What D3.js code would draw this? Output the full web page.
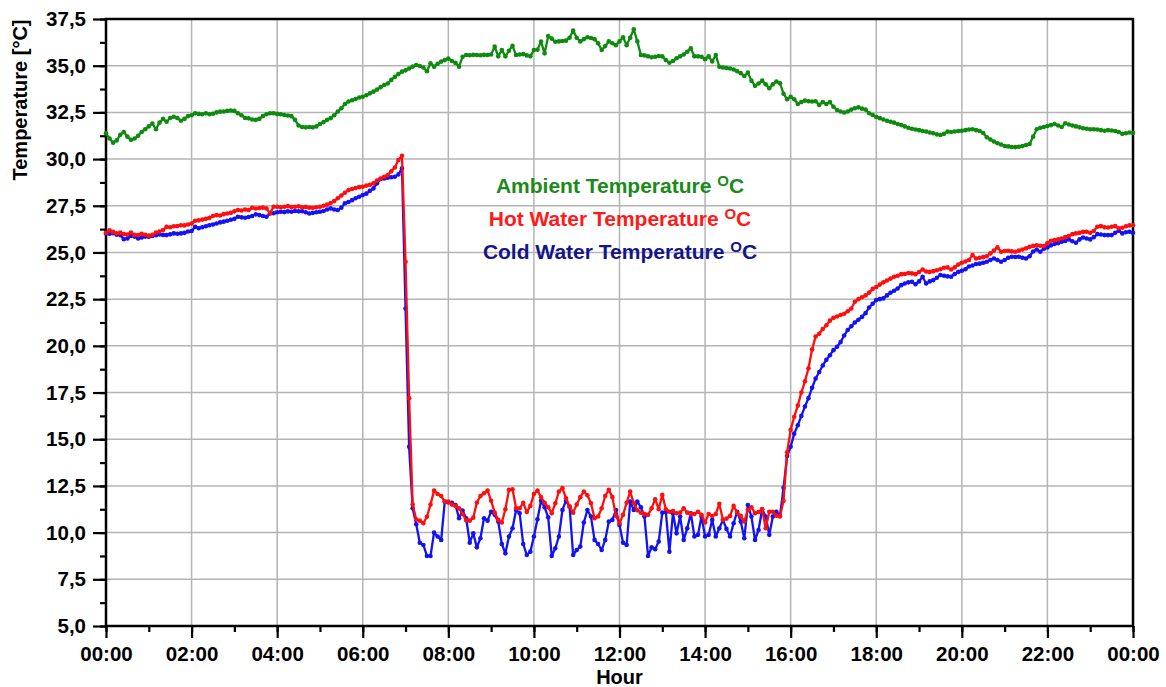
<!DOCTYPE html>
<html><head><meta charset="utf-8">
<script src="https://cdn.jsdelivr.net/npm/d3@7"></script>
<style>body{margin:0;background:#fff}svg{display:block}</style>
</head><body>
<svg id="chart" width="1166" height="687"></svg>
<script>
// sampling interval of the logged data (minutes)
const stepMinutes = 5;

const ambient = [
31.38,31.1,30.88,31.0,31.3,31.45,31.2,31.03,31.1,31.25,31.45,31.6,
31.75,31.9,31.6,31.95,32.15,32.0,32.2,32.27,32.2,32.05,32.15,32.3,
32.35,32.45,32.42,32.4,32.45,32.4,32.43,32.5,32.54,32.55,32.58,32.6,
32.58,32.45,32.35,32.2,32.18,32.12,32.1,32.15,32.3,32.4,32.45,32.45,
32.42,32.4,32.36,32.33,32.3,32.1,31.8,31.72,31.7,31.72,31.7,31.75,
31.88,31.98,32.1,32.19,32.35,32.55,32.72,32.95,33.08,33.15,33.22,33.3,
33.34,33.42,33.52,33.61,33.72,33.85,33.97,34.05,34.24,34.4,34.55,34.68,
34.75,34.85,34.95,35.04,34.98,34.9,34.7,35.13,34.95,35.1,35.22,35.3,
35.38,35.25,35.15,34.95,35.48,35.57,35.56,35.58,35.57,35.56,35.58,35.57,
35.6,36.02,35.5,35.84,35.5,35.8,36.06,35.57,35.6,35.62,35.55,35.5,
35.84,35.86,36.29,35.66,36.59,36.45,36.28,36.3,36.32,36.34,36.5,36.88,
36.5,36.3,36.42,36.52,36.48,36.42,36.2,35.84,36.05,36.3,36.2,36.1,
36.3,36.52,36.1,36.5,36.95,36.3,35.57,35.55,35.5,35.45,35.48,35.52,
35.5,35.3,35.16,35.25,35.4,35.5,35.6,35.75,35.93,35.5,35.5,35.48,
35.35,35.5,35.23,35.57,34.94,34.9,34.88,34.85,34.8,34.7,34.6,34.45,
34.63,34.2,33.92,34.05,34.2,34.0,33.79,34.0,34.15,34.06,33.5,33.2,
33.34,33.2,32.95,33.05,33.13,33.1,33.08,33.1,32.9,33.05,32.95,33.05,
32.8,32.63,32.55,32.49,32.55,32.65,32.72,32.77,32.7,32.65,32.45,32.36,
32.25,32.19,32.12,32.05,32.0,31.95,31.88,31.82,31.75,31.68,31.62,31.58,
31.55,31.5,31.47,31.42,31.38,31.32,31.29,31.35,31.47,31.45,31.48,31.5,
31.51,31.55,31.58,31.6,31.55,31.5,31.4,31.17,31.05,30.94,30.85,30.78,
30.7,30.68,30.65,30.64,30.66,30.7,30.75,30.81,31.2,31.6,31.68,31.72,
31.77,31.82,31.88,31.8,31.72,31.92,31.85,31.8,31.75,31.7,31.65,31.62,
31.6,31.6,31.58,31.55,31.52,31.55,31.53,31.5,31.45,31.35,31.38,31.42,
31.4];

const hotWater = [
26.05,26.18,26.1,26.02,26.06,25.98,25.96,26.07,25.94,25.93,26.0,25.95,
25.9,25.95,26.07,26.12,26.2,26.37,26.35,26.4,26.42,26.46,26.45,26.5,
26.55,26.7,26.72,26.76,26.8,26.85,26.95,27.0,26.98,27.05,27.09,27.12,
27.2,27.27,27.25,27.3,27.27,27.39,27.35,27.38,27.4,27.36,27.1,27.45,
27.45,27.42,27.45,27.48,27.43,27.45,27.47,27.42,27.44,27.4,27.39,27.42,
27.45,27.5,27.56,27.65,27.75,27.9,28.05,28.2,28.34,28.4,28.45,28.5,
28.52,28.58,28.62,28.7,28.85,28.96,29.05,29.14,29.35,29.55,29.95,30.18,
24.5,17.2,11.5,10.7,10.64,10.5,10.85,11.5,12.25,12.07,11.96,11.66,
11.66,11.5,11.43,11.3,11.0,10.66,10.64,10.8,11.61,11.96,12.11,12.25,
11.71,11.07,10.68,10.54,11.25,12.29,12.32,11.3,11.3,11.6,11.1,11.43,
12.07,12.25,11.9,11.6,11.36,11.04,11.57,12.2,12.38,11.84,11.39,11.07,
11.5,11.9,12.2,12.0,11.57,10.77,10.86,11.3,11.96,12.29,11.9,10.9,
10.5,10.95,11.6,12.2,11.57,11.2,11.07,11.0,10.95,11.3,11.79,11.25,
12.02,11.25,11.12,11.15,11.04,11.07,11.3,11.07,11.0,11.0,11.12,10.95,
10.54,11.0,10.89,11.0,11.54,10.68,10.75,10.89,11.43,11.07,10.9,10.59,
11.21,11.36,11.04,11.1,11.25,10.23,11.12,11.12,10.9,10.86,11.7,14.3,
15.5,16.2,16.8,17.5,18.1,18.8,19.8,20.5,20.65,20.9,21.1,21.35,
21.5,21.57,21.65,21.72,21.85,22.0,22.36,22.5,22.6,22.7,22.85,23.05,
23.15,23.28,23.4,23.5,23.6,23.7,23.75,23.84,23.85,23.9,23.88,23.84,
23.95,24.09,23.98,23.96,24.0,24.05,24.1,24.18,24.2,24.09,24.2,24.35,
24.45,24.52,24.6,24.86,24.68,24.72,24.75,24.8,24.95,25.1,25.27,25.04,
25.08,25.09,25.06,25.04,25.1,25.16,25.22,25.3,25.35,25.39,25.36,25.34,
25.5,25.63,25.66,25.7,25.75,25.82,25.88,25.98,26.02,26.05,26.1,26.11,
26.05,26.15,26.38,26.41,26.35,26.34,26.38,26.41,26.3,26.32,26.4,26.45,
26.46];

const coldWater = [
26.02,26.0,26.03,25.95,25.93,25.71,25.75,25.89,25.85,25.75,25.8,25.85,
25.84,25.88,25.92,25.96,25.94,25.93,25.97,26.02,26.0,26.02,26.05,26.12,
26.15,26.37,26.3,26.35,26.4,26.46,26.5,26.55,26.61,26.65,26.7,26.75,
26.8,26.91,26.88,26.86,26.9,26.95,27.04,27.0,26.95,26.91,27.09,27.1,
27.15,27.18,27.16,27.2,27.18,27.22,27.2,27.21,27.15,27.09,27.12,27.15,
27.18,27.22,27.3,27.36,27.3,27.27,27.4,27.63,27.7,27.8,27.9,27.98,
28.07,28.15,28.3,28.43,28.7,28.93,28.96,29.0,29.03,29.05,29.18,29.5,
22.0,14.6,11.3,10.45,9.46,9.34,8.75,8.75,10.0,9.79,9.61,11.66,
11.62,11.6,11.48,10.77,11.18,10.77,9.46,9.96,9.21,9.7,10.77,10.64,
11.12,10.95,10.59,9.39,8.89,9.79,10.23,11.21,11.04,9.39,8.8,8.98,
9.79,10.71,11.71,11.36,10.82,8.75,9.16,9.79,11.21,11.71,11.39,8.8,
9.07,9.25,10.54,11.21,10.86,9.61,9.39,9.07,9.61,10.59,10.68,11.21,
10.41,9.46,9.34,11.66,11.21,11.66,11.36,10.86,8.75,9.21,9.11,9.52,
11.07,11.1,8.98,11.04,9.96,10.86,9.61,10.23,11.04,9.79,9.88,10.86,
9.79,9.88,10.68,9.79,10.23,10.68,10.2,9.79,10.5,11.12,10.59,9.7,
11.48,10.86,9.61,10.14,11.25,10.86,9.88,10.86,11.12,10.9,12.4,14.1,
14.6,15.3,15.75,16.25,16.75,17.2,17.75,18.25,18.6,18.95,19.25,19.5,
19.77,19.95,20.2,20.55,20.85,21.05,21.25,21.4,21.55,21.75,22.05,22.25,
22.45,22.5,22.54,22.7,22.84,22.95,23.07,23.25,23.34,23.4,23.43,23.3,
23.45,23.7,23.34,23.45,23.52,23.65,23.79,23.75,23.72,23.7,23.85,23.96,
24.02,24.1,24.25,24.3,24.38,24.4,24.45,24.5,24.6,24.68,24.6,24.5,
24.6,24.72,24.77,24.76,24.77,24.72,24.68,24.8,25.05,25.16,25.04,25.2,
25.27,25.38,25.45,25.5,25.57,25.62,25.7,25.6,25.52,25.7,25.8,25.75,
25.7,25.82,25.98,25.96,25.93,25.93,25.93,26.05,26.16,26.02,26.08,26.11,
26.05];

const yTickValues = [5,7.5,10,12.5,15,17.5,20,22.5,25,27.5,30,32.5,35,37.5];
const xTickHours = [0,2,4,6,8,10,12,14,16,18,20,22,24];
const xTickLabels = ["00:00","02:00","04:00","06:00","08:00","10:00","12:00","14:00","16:00","18:00","20:00","22:00","00:00"];
const legendLabels = ["Ambient Temperature ","Hot Water Temperature ","Cold Water Temperature "];
const xTitle = "Hour";
const yTitle = "Temperature [\u00B0C]";

const W = 1166, H = 687;
const m = {left:106, right:33, top:19, bottom:61};
const svg = d3.select("#chart");
const fontFam = "Liberation Sans, Arial, sans-serif";

const x = d3.scaleLinear().domain([0,24]).range([m.left, W-m.right]);
const y = d3.scaleLinear().domain([5,37.5]).range([H-m.bottom, m.top]);

// grid
const grid = svg.append("g");
grid.selectAll("line.v").data(xTickHours.slice(1,-1)).join("line")
  .attr("x1",d=>x(d)).attr("x2",d=>x(d)).attr("y1",y(5)).attr("y2",y(37.5))
  .attr("stroke","#b4b4b4").attr("stroke-width",1.5);
grid.selectAll("line.h").data(yTickValues.slice(1,-1)).join("line")
  .attr("x1",x(0)).attr("x2",x(24)).attr("y1",d=>y(d)).attr("y2",d=>y(d))
  .attr("stroke","#b4b4b4").attr("stroke-width",1.5);

// axes: minor ticks
const minorY = d3.range(5, 37.5+0.01, 1.25);
const minorX = d3.range(0, 24.01, 1);
svg.append("g").attr("transform",`translate(${m.left},0)`)
  .call(d3.axisLeft(y).tickValues(minorY).tickSize(6).tickFormat(""))
  .call(g=>g.select(".domain").remove())
  .call(g=>g.selectAll("line").attr("stroke","#000").attr("stroke-width",2.2));
svg.append("g").attr("transform",`translate(0,${H-m.bottom})`)
  .call(d3.axisBottom(x).tickValues(minorX).tickSize(6).tickFormat(""))
  .call(g=>g.select(".domain").remove())
  .call(g=>g.selectAll("line").attr("stroke","#000").attr("stroke-width",2.2));

// major ticks + labels
svg.append("g").attr("transform",`translate(${m.left},0)`)
  .call(d3.axisLeft(y).tickValues(yTickValues).tickSize(13).tickPadding(7)
     .tickFormat(d=>d3.format(".1f")(d).replace(".",",")))
  .call(g=>g.select(".domain").remove())
  .call(g=>g.selectAll("line").attr("stroke","#000").attr("stroke-width",2.2))
  .call(g=>g.selectAll("text").attr("font-family",fontFam).attr("font-weight","bold")
     .attr("font-size",20.5).attr("fill","#000"));
svg.append("g").attr("transform",`translate(0,${H-m.bottom})`)
  .call(d3.axisBottom(x).tickValues(xTickHours).tickSize(12).tickPadding(8)
     .tickFormat((d,i)=>xTickLabels[i]))
  .call(g=>g.select(".domain").remove())
  .call(g=>g.selectAll("line").attr("stroke","#000").attr("stroke-width",2.2))
  .call(g=>g.selectAll("text").attr("font-family",fontFam).attr("font-weight","bold")
     .attr("font-size",20.5).attr("fill","#000"));

// frame
svg.append("rect").attr("x",x(0)).attr("y",y(37.5))
  .attr("width",x(24)-x(0)).attr("height",y(5)-y(37.5))
  .attr("fill","none").attr("stroke","#000").attr("stroke-width",2.5);

// series
const series = [
  {values: ambient, color: "#0e8a0e"},
  {values: coldWater, color: "#1212f2"},
  {values: hotWater, color: "#ff0e0e"}
];
const line = d3.line().x((d,i)=>x(i*stepMinutes/60)).y(d=>y(d));
series.forEach(s=>{
  svg.append("path").datum(s.values).attr("d",line)
    .attr("fill","none").attr("stroke",s.color).attr("stroke-width",2.3)
    .attr("stroke-linejoin","round");
  svg.append("g").selectAll("circle").data(s.values).join("circle")
    .attr("cx",(d,i)=>x(i*stepMinutes/60)).attr("cy",d=>y(d))
    .attr("r",2.3).attr("fill",s.color);
});

// legend text
const legendColors = ["#1a8a1a","#ff1a1a","#15158a"];
const legendY = [193, 226, 259];
legendLabels.forEach((t,i)=>{
  const tx = svg.append("text").attr("x",620).attr("y",legendY[i])
    .attr("text-anchor","middle").attr("font-family",fontFam)
    .attr("font-weight","bold").attr("font-size",21).attr("fill",legendColors[i]);
  tx.append("tspan").text(t);
  tx.append("tspan").attr("font-size",15).attr("dy",-7).text("O");
  tx.append("tspan").attr("dy",7).text("C");
});

// axis titles
svg.append("text").attr("x",(x(0)+x(24))/2).attr("y",684)
  .attr("text-anchor","middle").attr("font-family",fontFam).attr("font-weight","bold")
  .attr("font-size",20).text(xTitle);
svg.append("text").attr("transform","translate(27,100) rotate(-90)")
  .attr("text-anchor","middle").attr("font-family",fontFam).attr("font-weight","bold")
  .attr("font-size",20).text(yTitle);
</script>
</body></html>
